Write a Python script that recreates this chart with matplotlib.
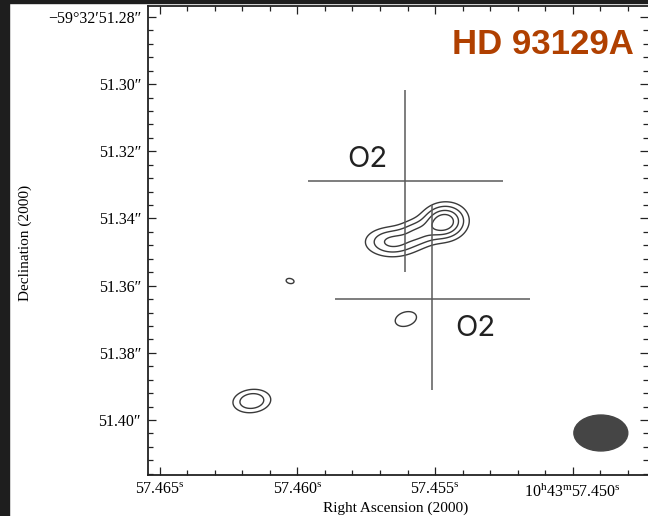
import numpy as np
import matplotlib
matplotlib.use("Agg")
import matplotlib.pyplot as plt
from matplotlib.patches import Ellipse, Rectangle
from matplotlib.ticker import MultipleLocator

plt.rcParams['font.family'] = 'Liberation Serif'
plt.rcParams['mathtext.fontset'] = 'custom'
plt.rcParams['mathtext.rm'] = 'Liberation Serif'

# axis ticks (RA in seconds, Dec in arcsec of -59d32m)
x_ticks = [57.465, 57.460, 57.455, 57.450]
x_labels = [r'57.465$^{\rm s}$', r'57.460$^{\rm s}$', r'57.455$^{\rm s}$',
            r'10$^{\rm h}$43$^{\rm m}$57.450$^{\rm s}$']
y_ticks = [51.28, 51.30, 51.32, 51.34, 51.36, 51.38, 51.40]
y_labels = ['\u221259\u00b032\u203251.28\u2033', '51.30\u2033', '51.32\u2033', '51.34\u2033',
            '51.36\u2033', '51.38\u2033', '51.40\u2033']

# emission components: position, peak, sigma major/minor (mas), tilt (deg)
src_ra = [57.45467, 57.45562, 57.45656, 57.46027, 57.45606, 57.46166]
src_dec = [51.34105, 51.34432, 51.34700, 51.35862, 51.36994, 51.39436]
src_amp = [1.0, 0.45, 0.56, 0.16, 0.2, 0.49]
src_sx = [3.4, 3.3, 4.2, 1.47, 3.0, 3.13]
src_sy = [2.9, 2.4, 2.5, 0.98, 2.05, 2.05]
src_pa = [12, 8, 0, -15, 20, 8]
levels = [0.12, 0.28, 0.5, 0.75]

# O2 component crosses
cross_x = [57.45609, 57.45511]
cross_y = [51.3288, 51.3640]
h_left = [57.45962, 57.45864]
h_right = [57.45253, 57.45155]
v_top = [51.3017, 51.3360]
v_bot = [51.3559, 51.3911]
label_x = [57.45747, 57.45355]
label_y = [51.3225, 51.37262]

# restoring beam
beam_ra, beam_dec = 57.44897, 51.40388
beam_w, beam_h = 0.00196, 0.0107

ra = np.linspace(57.4474, 57.4656, 700)
dec = np.linspace(51.276, 51.417, 600)
RA, DEC = np.meshgrid(ra, dec)
cosd = np.cos(np.deg2rad(59 + 32 / 60 + 51.34 / 3600))
field = np.zeros_like(RA)
for r0, d0, a, sx, sy, pa in zip(src_ra, src_dec, src_amp, src_sx, src_sy, src_pa):
    u = -(RA - r0) * 15 * cosd * 1000
    v = -(DEC - d0) * 1000
    t = np.deg2rad(pa)
    up = u * np.cos(t) + v * np.sin(t)
    vp = -u * np.sin(t) + v * np.cos(t)
    field += a * np.exp(-0.5 * ((up / sx) ** 2 + (vp / sy) ** 2))

fig = plt.figure(figsize=(6.48, 5.16), dpi=100)
ax = fig.add_axes([148 / 648, 1 - 475 / 516, 500 / 648, 469 / 516])

ax.contour(RA, DEC, field, levels=levels, colors='#3a3a3a', linewidths=1.0)

ax.hlines(cross_y, h_left, h_right, color='#5a5a5a', lw=1.1)
ax.vlines(cross_x, v_top, v_bot, color='#5a5a5a', lw=1.1)
for lx, ly in zip(label_x, label_y):
    ax.text(lx, ly, 'O2', family='Inter', fontsize=21, color='#222222',
            ha='center', va='center')

ax.add_patch(Ellipse((beam_ra, beam_dec), beam_w, beam_h, color='#454545'))

ax.set_xlim(57.465436, 57.447255)
ax.set_ylim(51.41639, 51.27672)
ax.set_xticks(x_ticks, x_labels)
ax.set_yticks(y_ticks, y_labels)
ax.xaxis.set_minor_locator(MultipleLocator(0.001))
ax.yaxis.set_minor_locator(MultipleLocator(0.004))
ax.tick_params(which='both', direction='in', top=True, right=True,
               labelsize=11.5, width=0.9, color='#222222')
ax.tick_params(which='major', length=6, pad=5)
ax.tick_params(which='minor', length=3.5)
for s in ax.spines.values():
    s.set_linewidth(1.3)
    s.set_color('#222222')
ax.spines['right'].set_visible(False)

ax.set_xlabel('Right Ascension (2000)', fontsize=11)
ax.set_ylabel('Declination (2000)', fontsize=11)
ax.xaxis.set_label_coords(0.496, -0.057)
ax.yaxis.set_label_coords(-0.232, 0.495)

fig.text(543 / 648, 1 - 45 / 516, 'HD 93129A', family='Liberation Sans',
         fontweight='bold', fontsize=25, color='#b04000', ha='center', va='center')

fig.patches.append(Rectangle((0, 0), 9 / 648, 1, transform=fig.transFigure,
                             color='#1e1e1e', zorder=10))
fig.patches.append(Rectangle((0, 1 - 3 / 516), 1, 3 / 516, transform=fig.transFigure,
                             color='#1e1e1e', zorder=10))

fig.savefig('out.png', dpi=100)
